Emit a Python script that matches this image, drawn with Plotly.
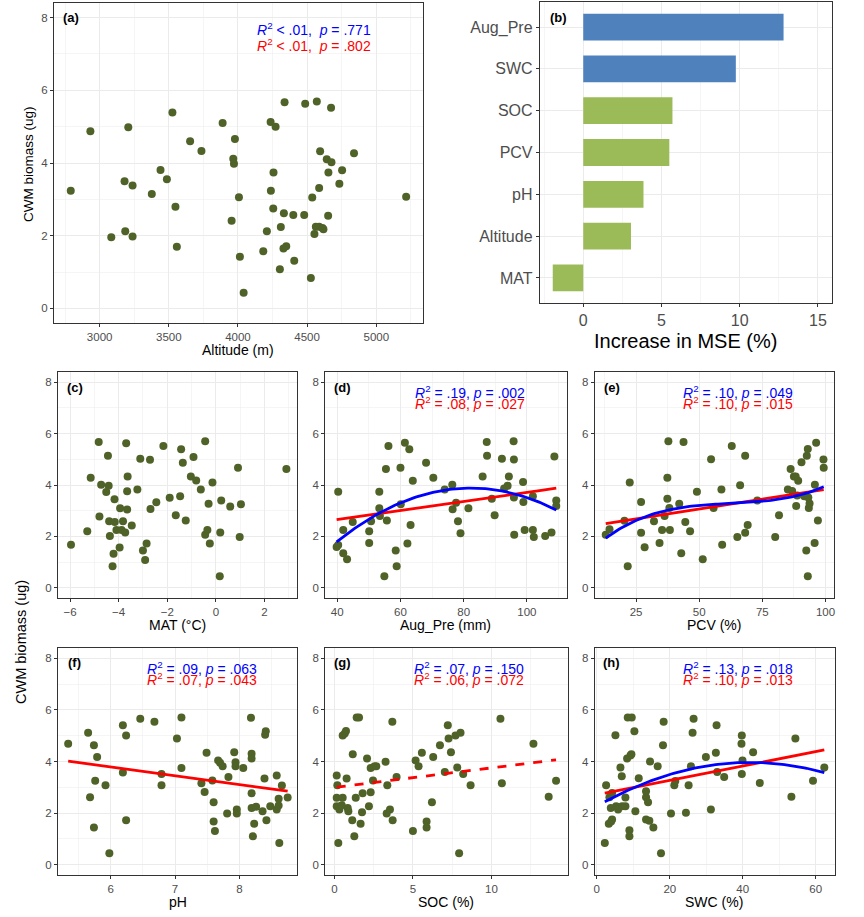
import numpy as np
import plotly.graph_objects as go

W, H = 864, 917

# ---------------- DATA ----------------
# (a) Altitude vs CWM biomass
alt_x = [2791, 2933, 3084, 3185, 3180, 3207, 3238, 3238, 3377, 3440, 3486, 3526, 3548, 3558, 3654,
         3736, 3889, 3966, 3971, 3978, 3954, 4007, 4014, 4041, 4183, 4209, 4236, 4272, 4238, 4257,
         4255, 4310, 4303, 4329, 4349, 4337, 4332, 4400, 4407, 4479, 4486, 4527, 4570, 4537, 4563,
         4553, 4587, 4611, 4618, 4587, 4594, 4642, 4676, 4654, 4673, 4652, 4733, 4753, 4839, 5216]
alt_y = [3.24, 4.87, 1.96, 2.12, 3.50, 4.98, 3.38, 1.98, 3.15, 3.81, 3.55, 5.39, 2.80, 1.70, 4.60,
         4.33, 5.10, 4.12, 3.98, 4.66, 2.41, 3.06, 1.42, 0.43, 1.57, 2.12, 5.13, 5.00, 3.24, 3.74,
         2.75, 2.24, 1.08, 1.65, 1.71, 5.67, 2.62, 2.57, 1.31, 2.57, 5.63, 0.84, 5.69, 3.05, 2.25,
         2.05, 2.25, 2.21, 2.18, 3.31, 4.32, 4.10, 4.02, 3.74, 5.52, 2.55, 3.43, 3.80, 4.27, 3.07]

# (b) Random forest importance
rf_vars = ["Aug_Pre", "SWC", "SOC", "PCV", "pH", "Altitude", "MAT"]
rf_mse = [12.8, 9.75, 5.7, 5.5, 3.85, 3.05, -1.95]
rf_group = ["water", "water", "other", "other", "other", "other", "other"]

# (c) MAT
mat_x = [-5.96, -5.29, -5.15, -4.82, -4.79, -4.72, -4.51, -4.44, -4.41, -4.39, -4.36, -4.21, -4.25,
         -4.17, -4.16, -4.09, -3.96, -3.94, -3.88, -3.82, -3.73, -3.69, -3.65, -3.65, -3.63, -3.46,
         -3.23, -3.11, -3.00, -2.91, -2.85, -2.71, -2.69, -2.45, -2.16, -1.90, -1.65, -1.47, -1.43,
         -1.36, -1.24, -1.03, -0.92, -0.81, -0.62, -0.44, -0.44, -0.35, -0.30, -0.25, -0.14, 0.16,
         0.18, 0.22, 0.59, 0.91, 0.98, 1.03, 2.90]
mat_y = [1.67, 2.20, 4.28, 5.67, 2.77, 4.01, 3.73, 5.14, 3.97, 2.59, 2.01, 1.32, 0.84, 3.45, 2.56,
         2.25, 1.57, 3.09, 2.25, 2.59, 2.15, 5.63, 3.05, 3.76, 4.33, 2.42, 3.82, 5.02, 1.45, 1.08,
         1.72, 4.98, 3.07, 3.33, 5.52, 3.50, 2.82, 3.56, 5.39, 4.87, 2.62, 4.33, 5.09, 4.18, 3.82,
         5.70, 2.06, 2.25, 3.27, 1.72, 4.10, 0.45, 2.15, 3.40, 3.16, 4.67, 1.98, 3.25, 4.62]

# (d) Aug_Pre
pre_x = [39.8, 40.3, 40.3, 41.9, 41.9, 43.1, 44.9, 50.1, 50.1, 50.7, 53.3, 53.3, 53.5, 54.9, 55.4,
         55.7, 56.2, 58.5, 58.8, 60.0, 60.1, 61.4, 62.2, 62.8, 63.2, 63.9, 68.1, 70.4, 74.0, 76.4,
         76.5, 77.6, 78.2, 79.0, 81.5, 86.0, 87.3, 87.4, 88.9, 89.8, 92.1, 92.8, 93.9, 94.3, 95.8,
         95.9, 95.9, 96.0, 98.8, 98.9, 99.3, 101.9, 102.2, 101.9, 105.8, 107.8, 108.7, 109.3, 109.3]
pre_y = [1.59, 1.66, 3.74, 2.25, 1.34, 1.11, 2.56, 2.20, 1.74, 2.59, 3.74, 3.09, 2.79, 0.45, 4.62,
         2.62, 5.52, 1.45, 0.84, 4.67, 3.25, 5.65, 1.72, 5.39, 2.44, 4.17, 4.87, 4.28, 3.82, 4.01,
         3.06, 3.31, 2.59, 2.12, 3.09, 4.33, 5.67, 5.14, 3.46, 2.82, 5.02, 3.86, 3.97, 4.33, 5.70,
         4.99, 3.51, 2.06, 4.12, 3.34, 2.25, 2.25, 1.98, 3.56, 2.01, 2.15, 5.11, 3.40, 3.18]

# (e) PCV
pcv_x = [13.0, 14.5, 20.4, 22.5, 21.7, 27.0, 27.0, 28.4, 32.1, 34.3, 35.3, 36.3, 37.4, 37.4, 37.8,
         38.2, 38.4, 42.1, 42.9, 43.8, 44.5, 46.4, 49.1, 51.4, 54.7, 55.7, 58.8, 59.1, 62.9, 65.1,
         66.2, 68.2, 68.2, 69.2, 73.0, 80.1, 81.6, 86.2, 85.1, 86.8, 87.5, 88.2, 89.2, 88.4, 88.8,
         90.5, 91.6, 92.6, 93.0, 92.4, 93.0, 93.4, 93.7, 93.2, 95.8, 95.7, 96.3, 97.0, 99.2, 99.3]
pcv_y = [2.06, 2.28, 2.61, 4.10, 0.84, 3.34, 2.14, 1.58, 2.59, 1.74, 2.25, 2.79, 4.28, 3.46, 5.70,
         3.10, 2.25, 3.27, 1.34, 5.67, 2.56, 2.20, 3.74, 1.11, 5.00, 3.10, 3.82, 1.67, 5.52, 1.98,
         3.99, 5.14, 2.14, 2.44, 3.40, 1.98, 2.82, 4.62, 3.82, 3.77, 4.33, 4.33, 4.17, 3.18, 3.59,
         4.89, 3.56, 5.14, 5.40, 1.45, 0.45, 3.10, 3.28, 3.51, 4.01, 1.74, 5.65, 2.62, 4.99, 4.67]

# (f) pH
ph_x = [5.34, 5.65, 5.68, 5.74, 5.74, 5.76, 5.79, 5.92, 5.98, 6.19, 6.19, 6.24, 6.24, 6.46, 6.68,
        6.79, 6.79, 7.03, 7.10, 7.10, 7.41, 7.46, 7.49, 7.58, 7.60, 7.60, 7.62, 7.67, 7.70, 7.74,
        7.81, 7.83, 7.92, 7.94, 7.94, 7.96, 7.96, 8.06, 8.18, 8.19, 8.19, 8.19, 8.19, 8.21, 8.23,
        8.26, 8.36, 8.39, 8.41, 8.40, 8.42, 8.48, 8.58, 8.58, 8.61, 8.61, 8.62, 8.66, 8.75]
ph_y = [4.69, 5.11, 2.61, 4.63, 1.44, 3.25, 4.17, 3.08, 0.44, 5.41, 3.57, 5.01, 1.72, 5.66, 5.54,
        3.52, 3.08, 4.89, 5.71, 3.75, 3.16, 2.82, 4.34, 3.26, 2.42, 1.67, 1.31, 4.04, 3.95, 3.82,
        1.98, 3.40, 4.36, 3.97, 3.82, 2.14, 1.98, 3.75, 5.70, 4.30, 4.12, 2.77, 2.20, 1.10, 1.59,
        2.25, 2.07, 3.34, 5.17, 5.04, 1.72, 2.27, 3.46, 2.14, 2.29, 2.56, 0.84, 3.07, 2.60]

# (g) SOC
soc_x = [0.15, 0.19, 0.15, 0.15, 0.25, 0.32, 0.47, 0.53, 0.53, 0.66, 0.74, 0.78, 0.85, 0.89, 1.14,
         1.17, 1.27, 1.36, 1.42, 1.57, 1.67, 1.76, 1.80, 2.08, 2.20, 2.31, 2.31, 2.46, 2.56, 2.67,
         3.26, 3.33, 3.37, 3.54, 3.69, 3.71, 3.96, 5.00, 5.17, 5.36, 5.57, 6.21, 6.29, 6.72, 5.87,
         5.87, 7.03, 7.22, 7.27, 7.42, 7.71, 7.82, 7.94, 8.03, 8.20, 8.67, 10.57, 10.66, 12.67,
         13.64, 14.11]
soc_y = [3.46, 3.08, 2.59, 2.27, 0.84, 2.14, 2.30, 2.59, 5.01, 5.09, 5.18, 3.34, 2.20, 2.07, 1.72,
         4.28, 1.10, 2.59, 5.71, 5.71, 1.59, 2.03, 2.77, 4.12, 2.27, 3.75, 2.81, 3.26, 3.82, 3.82,
         3.99, 1.98, 3.08, 2.14, 5.54, 1.72, 3.40, 1.31, 4.04, 3.82, 4.34, 2.42, 4.17, 4.63, 1.67,
         1.44, 3.59, 5.41, 4.89, 4.36, 5.01, 3.77, 0.44, 5.11, 3.52, 3.08, 5.66, 3.16, 4.69,
         2.63, 3.25]

# (h) SWC
swc_x = [2.19, 2.55, 3.28, 3.46, 3.83, 3.92, 4.19, 4.19, 5.29, 5.10, 5.83, 6.47, 6.84, 6.93, 7.84,
         7.84, 8.30, 8.48, 8.93, 8.93, 9.21, 9.48, 9.57, 10.30, 10.57, 11.49, 13.49, 13.49, 13.49,
         14.04, 14.40, 14.59, 15.50, 16.68, 17.59, 18.14, 18.32, 20.33, 21.24, 21.51, 24.43, 25.16,
         25.80, 26.25, 26.53, 29.90, 31.27, 32.63, 32.82, 33.00, 34.91, 39.74, 39.65, 39.93, 39.74,
         42.84, 44.67, 53.33, 54.42, 59.25, 62.35]
swc_y = [0.84, 3.08, 1.59, 2.61, 2.20, 1.67, 1.75, 2.78, 2.27, 5.02, 2.14, 3.77, 3.43, 2.27, 2.60,
         2.27, 4.12, 5.71, 1.33, 1.10, 4.23, 4.28, 5.71, 5.17, 2.07, 3.35, 2.61, 2.85, 1.75,
         2.42, 1.70, 4.00, 1.44, 3.82, 0.44, 4.63, 5.54, 1.98, 3.08, 3.24, 2.01, 3.08,
         3.82, 5.11, 5.66, 4.17, 2.14, 4.34, 5.41, 3.59, 3.40, 5.01, 4.69, 4.04, 3.52,
         4.36, 3.17, 2.63, 4.89, 3.25, 3.77]

# annotation texts
stats = {
    "a": ("<i>R</i><sup>2</sup> < .01,  <i>p</i> = .771", "<i>R</i><sup>2</sup> < .01,  <i>p</i> = .802"),
    "d": ("<i>R</i><sup>2</sup> = .19, <i>p</i> = .002", "<i>R</i><sup>2</sup> = .08, <i>p</i> = .027"),
    "e": ("<i>R</i><sup>2</sup> = .10, <i>p</i> = .049", "<i>R</i><sup>2</sup> = .10, <i>p</i> = .015"),
    "f": ("<i>R</i><sup>2</sup> = .09, <i>p</i> = .063", "<i>R</i><sup>2</sup> = .07, <i>p</i> = .043"),
    "g": ("<i>R</i><sup>2</sup> = .07, <i>p</i> = .150", "<i>R</i><sup>2</sup> = .06, <i>p</i> = .072"),
    "h": ("<i>R</i><sup>2</sup> = .13, <i>p</i> = .018", "<i>R</i><sup>2</sup> = .10, <i>p</i> = .013"),
}

# ---------------- STYLE ----------------
PT_COLOR = "#4F6228"
BLUE_BAR = "#4F81BD"
GREEN_BAR = "#9BBB59"
GRID = "#EBEBEB"
FONT = "Liberation Sans, Arial, sans-serif"
TICKC = "#4D4D4D"


def px(x):
    return x / W


def py(y):
    return 1 - y / H


# panel frames in pixels: (left, right, top, bottom)
frames = {
    "a": (53, 423, 3, 323),
    "b": (540, 833, 2, 303),
    "c": (57, 297, 372, 598),
    "d": (325, 567, 372, 598),
    "e": (595, 835, 372, 598),
    "f": (57, 297, 648, 875),
    "g": (325, 568, 648, 875),
    "h": (595, 836, 648, 875),
}
axis_ids = {"a": "", "b": "2", "c": "3", "d": "4", "e": "5", "f": "6", "g": "7", "h": "8"}

fig = go.Figure()
layout = {}


def base_axis(tickfont_size=11.5):
    return dict(
        showline=True, mirror=True, linecolor="#333333", linewidth=1,
        ticks="outside", ticklen=3, tickwidth=1, tickcolor="#333333",
        tickfont=dict(family=FONT, size=tickfont_size, color=TICKC),
        showgrid=True, gridcolor=GRID, gridwidth=1, zeroline=False, showspikes=False,
    )


def set_axes(key, xrange, xdtick, xminor, xtick0, yrange=(-0.4, 8.4)):
    l, r, t, b = frames[key]
    i = axis_ids[key]
    xa = base_axis()
    xa.update(domain=[px(l), px(r)], range=list(xrange), dtick=xdtick, tick0=xtick0,
              anchor="y" + i, minor=dict(dtick=xminor, tick0=xtick0, showgrid=True,
                                         gridcolor=GRID, gridwidth=0.5, ticks=""))
    ya = base_axis()
    ya.update(domain=[py(b), py(t)], range=list(yrange), dtick=2, tick0=0,
              anchor="x" + i, minor=dict(dtick=1, tick0=0, showgrid=True,
                                         gridcolor=GRID, gridwidth=0.5, ticks=""))
    layout["xaxis" + i] = xa
    layout["yaxis" + i] = ya


def scatter(key, xs, ys):
    i = axis_ids[key]
    fig.add_trace(go.Scatter(x=xs, y=ys, mode="markers", xaxis="x" + i, yaxis="y" + i,
                             marker=dict(size=8, color=PT_COLOR), hoverinfo="skip"))


def fit_line(key, xs, ys, deg, color, dash="solid"):
    i = axis_ids[key]
    xs = np.asarray(xs, float)
    ys = np.asarray(ys, float)
    coef = np.polyfit(xs, ys, deg)
    grid = np.linspace(xs.min(), xs.max(), 100)
    fig.add_trace(go.Scatter(x=grid, y=np.polyval(coef, grid), mode="lines",
                             xaxis="x" + i, yaxis="y" + i,
                             line=dict(color=color, width=2.8, dash=dash), hoverinfo="skip"))


# (a)
set_axes("a", (2669, 5338), 500, 250, 3000)
scatter("a", alt_x, alt_y)
# (c)
set_axes("c", (-6.5, 3.35), 2, 1, 0)
scatter("c", mat_x, mat_y)
# (d)
set_axes("d", (36.2, 112.6), 20, 10, 0)
scatter("d", pre_x, pre_y)
fit_line("d", pre_x, pre_y, 1, "#FF0000")
fit_line("d", pre_x, pre_y, 2, "#0000FF")
# (e)
set_axes("e", (8.6, 103.4), 25, 12.5, 0)
scatter("e", pcv_x, pcv_y)
fit_line("e", pcv_x, pcv_y, 1, "#FF0000")
fit_line("e", pcv_x, pcv_y, 3, "#0000FF")
# (f)
set_axes("f", (5.18, 8.9), 1, 0.5, 0)
scatter("f", ph_x, ph_y)
fit_line("f", ph_x, ph_y, 1, "#FF0000")
# (g)
set_axes("g", (-0.58, 14.85), 5, 2.5, 0)
scatter("g", soc_x, soc_y)
fit_line("g", soc_x, soc_y, 1, "#FF0000", dash="dash")
# (h)
set_axes("h", (-0.6, 65.3), 20, 10, 0)
scatter("h", swc_x, swc_y)
fit_line("h", swc_x, swc_y, 1, "#FF0000")
fit_line("h", swc_x, swc_y, 2, "#0000FF")

# (b) bar chart
l, r, t, b = frames["b"]
bar_colors = [BLUE_BAR if g == "water" else GREEN_BAR for g in rf_group]
fig.add_trace(go.Bar(x=rf_mse, y=rf_vars, orientation="h", xaxis="x2", yaxis="y2",
                     marker=dict(color=bar_colors, line=dict(width=0)), width=0.64,
                     hoverinfo="skip"))
xb = base_axis(16)
xb.update(domain=[px(l), px(r)], range=[-2.78, 15.9], dtick=5, tick0=0, anchor="y2",
          minor=dict(dtick=2.5, tick0=0, showgrid=True, gridcolor=GRID, gridwidth=0.5, ticks=""))
yb = base_axis(16)
yb.update(domain=[py(b), py(t)], type="category", categoryorder="array",
          categoryarray=rf_vars, range=[6.6, -0.6], anchor="x2")
layout["xaxis2"] = xb
layout["yaxis2"] = yb

# ---------------- ANNOTATIONS ----------------
ann = []


def text(x, y, s, size, color="black", bold=False, angle=0, xanchor="center"):
    ann.append(dict(x=px(x), y=py(y), xref="paper", yref="paper", text=("<b>%s</b>" % s) if bold else s,
                    showarrow=False, textangle=angle, xanchor=xanchor, yanchor="middle",
                    font=dict(family=FONT, size=size, color=color)))


# panel labels
labels = {"a": (70, 18), "b": (559, 18), "c": (74, 387), "d": (342, 387), "e": (612, 387),
          "f": (74, 662), "g": (342, 662), "h": (612, 662)}
for k, (x, y) in labels.items():
    text(x, y, "(%s)" % k, 13, bold=True)

# stats
text(314, 29, stats["a"][0], 14, "#0000FF")
text(314, 45, stats["a"][1], 14, "#FF0000")
stat_pos = {"d": (470, 392, 403), "e": (739, 392, 403), "f": (201, 668, 679),
            "g": (469, 668, 679), "h": (739, 668, 679)}
for k, (x, y1, y2) in stat_pos.items():
    text(x, y2, stats[k][1], 14, "#FF0000")
    text(x, y1, stats[k][0], 14, "#0000FF")

# axis titles
text(238, 350, "Altitude (m)", 14)
text(686, 341, "Increase in MSE (%)", 20)
text(177, 625, "MAT (°C)", 14)
text(446, 625, "Aug_Pre (mm)", 14)
text(715, 625, "PCV (%)", 14)
text(177, 902, "pH", 14)
text(446, 902, "SOC (%)", 14)
text(715, 902, "SWC (%)", 14)
text(27, 164, "CWM biomass (ug)", 13.5, angle=-90)
text(20, 642, "CWM biomass (ug)", 14.5, angle=-90)

layout.update(width=W, height=H, margin=dict(l=0, r=0, t=0, b=0), showlegend=False,
              plot_bgcolor="white", paper_bgcolor="white", annotations=ann,
              font=dict(family=FONT), hovermode=False)
fig.update_layout(**layout)
fig.write_html("out.html", config={"displayModeBar": False, "staticPlot": True})

# remove the browser's default page margin so the figure sits at the window origin
with open("out.html", "r", encoding="utf-8") as f:
    html = f.read()
html = html.replace("<body>", '<body style="margin:0;padding:0;overflow:hidden">', 1)
with open("out.html", "w", encoding="utf-8") as f:
    f.write(html)
